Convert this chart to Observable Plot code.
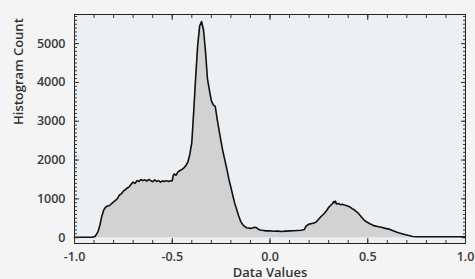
<!DOCTYPE html>
<html><head><meta charset="utf-8">
<script src="https://cdn.jsdelivr.net/npm/d3@7"></script>
<script src="https://cdn.jsdelivr.net/npm/@observablehq/plot@0.6"></script>
<style>
html,body{margin:0;padding:0;background:#f4f4f4;}
svg{display:block;}
</style></head><body>
<div id="chart"></div>
<script>
const xValues = [-1.00,-0.95,-0.91,-0.895,-0.88,-0.87,-0.86,-0.85,-0.84,-0.83,-0.82,-0.81,-0.80,-0.79,-0.78,-0.77,-0.76,-0.75,-0.74,-0.73,-0.72,-0.71,-0.70,-0.69,-0.68,-0.67,-0.66,-0.65,-0.64,-0.63,-0.62,-0.61,-0.60,-0.59,-0.58,-0.57,-0.56,-0.55,-0.54,-0.53,-0.52,-0.51,-0.50,-0.495,-0.49,-0.48,-0.47,-0.46,-0.45,-0.44,-0.43,-0.42,-0.41,-0.40,-0.39,-0.38,-0.37,-0.36,-0.35,-0.34,-0.33,-0.32,-0.31,-0.30,-0.29,-0.28,-0.27,-0.26,-0.25,-0.24,-0.23,-0.22,-0.21,-0.20,-0.19,-0.18,-0.17,-0.16,-0.15,-0.14,-0.13,-0.12,-0.11,-0.10,-0.09,-0.08,-0.07,-0.06,-0.05,-0.04,-0.02,0.00,0.02,0.04,0.06,0.08,0.10,0.12,0.14,0.16,0.175,0.185,0.20,0.22,0.235,0.25,0.26,0.275,0.29,0.30,0.31,0.32,0.325,0.33,0.335,0.34,0.35,0.36,0.37,0.38,0.39,0.40,0.41,0.42,0.43,0.44,0.45,0.46,0.47,0.48,0.49,0.50,0.51,0.52,0.53,0.55,0.57,0.59,0.61,0.63,0.65,0.67,0.69,0.71,0.73,0.75,0.85,1.00];
const counts = [10,10,10,30,150,320,560,720,790,820,830,880,920,960,1010,1100,1130,1200,1240,1280,1310,1380,1430,1400,1470,1450,1500,1470,1490,1460,1500,1470,1440,1490,1450,1470,1430,1460,1450,1470,1450,1460,1470,1600,1640,1610,1700,1730,1760,1800,1860,1950,2150,2450,3270,4150,4950,5450,5570,5350,4800,4100,3800,3530,3420,3380,3050,2750,2470,2200,1980,1750,1500,1300,1080,880,720,560,420,340,290,255,250,240,250,270,260,220,200,190,175,180,165,170,160,170,175,180,185,190,210,300,350,370,400,480,540,610,700,780,830,880,930,900,940,870,880,850,860,840,830,810,790,750,720,680,640,580,520,460,420,390,360,340,310,290,270,240,220,180,140,110,80,55,30,25,25,25];
const xMajor = [-1.0,-0.5,0.0,0.5,1.0];
const yMajor = [0,1000,2000,3000,4000,5000];
const xLabel = "Data Values";
const yLabel = "Histogram Count";

const data = xValues.map((x,i)=>({x, y: counts[i]}));
const xMinor = d3.range(-10, 11).map(i => i/10);
const yMinor = d3.range(0, 58).map(i => i*100);

const font = "'Open Sans', sans-serif";
const chart = Plot.plot({
  width: 475, height: 279,
  marginLeft: 74, marginRight: 10, marginTop: 14, marginBottom: 36,
  style: {background: "#f4f4f4", fontFamily: font, fontSize: "12px", fontWeight: 600, color: "#333"},
  x: {domain: [-1, 1]},
  y: {domain: [-150, 5750]},
  marks: [
    Plot.frame({fill: "#edf0f3"}),
    Plot.areaY(data, {x: "x", y: "y", fill: "#d2d2d2", curve: "linear"}),
    Plot.lineY(data, {x: "x", y: "y", stroke: "#111", strokeWidth: 1.6, curve: "linear"}),
    Plot.frame({stroke: "#222", strokeWidth: 1}),
    Plot.axisX(xMinor, {anchor: "bottom", tickSize: -3, tickFormat: () => "", stroke: "#333", label: null}),
    Plot.axisX(xMajor, {anchor: "bottom", tickSize: -5, tickFormat: () => "", stroke: "#333", label: null}),
    Plot.axisX(xMinor, {anchor: "top", tickSize: -3, tickFormat: () => "", stroke: "#333", label: null}),
    Plot.axisX(xMajor, {anchor: "top", tickSize: -5, tickFormat: () => "", stroke: "#333", label: null}),
    Plot.axisX(xMajor, {anchor: "bottom", tickSize: 0, tickPadding: 9, tickFormat: d => d.toFixed(1), fontSize: 12.5, fill: "#3a3a3a", label: null}),
    Plot.axisY(yMinor, {anchor: "left", tickSize: -3, tickFormat: () => "", stroke: "#333", label: null}),
    Plot.axisY(yMajor, {anchor: "left", tickSize: -5, tickFormat: () => "", stroke: "#333", label: null}),
    Plot.axisY(yMinor, {anchor: "right", tickSize: -3, tickFormat: () => "", stroke: "#333", label: null}),
    Plot.axisY(yMajor, {anchor: "right", tickSize: -5, tickFormat: () => "", stroke: "#333", label: null}),
    Plot.axisY(yMajor, {anchor: "left", tickSize: 0, tickPadding: 9, tickFormat: d => String(d), fontSize: 12.5, fill: "#3a3a3a", label: null}),
    Plot.text([xLabel], {frameAnchor: "bottom", dy: 29, lineAnchor: "middle", text: d => d, fontSize: 13, fill: "#333", fontWeight: 600}),
    Plot.text([yLabel], {frameAnchor: "left", dx: -56, dy: -4, rotate: -90, text: d => d, fontSize: 13, fill: "#333", fontWeight: 600})
  ]
});
document.getElementById("chart").appendChild(chart);
</script>
</body></html>
